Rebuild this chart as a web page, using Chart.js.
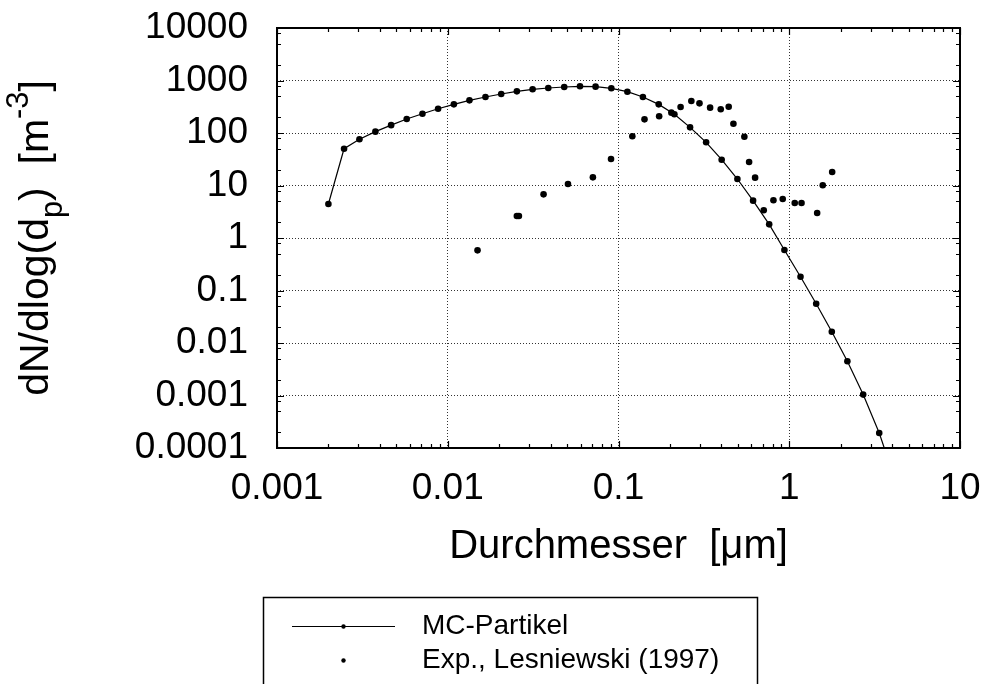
<!DOCTYPE html>
<html>
<head>
<meta charset="utf-8">
<script src="https://cdn.jsdelivr.net/npm/chart.js@4.4.1/dist/chart.umd.min.js"></script>
<style>
  html, body { margin: 0; padding: 0; background: #fff; }
  #wrap { width: 989px; height: 684px; position: relative; }
</style>
</head>
<body>
<div id="wrap"><canvas id="c" width="989" height="684"></canvas></div>
<script>
// Monte-Carlo particle size distribution (diameter in µm, dN/dlog(dp) in m^-3)
const mcDiameter = [0.002, 0.00247, 0.00304, 0.00377, 0.00466, 0.00575, 0.00711, 0.00878,
  0.01086, 0.0134, 0.01663, 0.02056, 0.0254, 0.0314, 0.0388, 0.0481, 0.0595, 0.0734, 0.0908,
  0.1127, 0.139, 0.172, 0.2125, 0.2625, 0.326, 0.402, 0.497, 0.614, 0.763, 0.937,
  1.164, 1.438, 1.775, 2.19, 2.71, 3.365, 4.16];
const mcDensity = [4.44, 50.2, 75.9, 106, 141, 185, 233, 290,
  351, 419, 485, 553, 622, 680, 720, 752, 775, 763, 710,
  612, 485, 351, 227, 128, 66.5, 31, 13.3, 5.14, 1.82, 0.59,
  0.183, 0.0561, 0.0164, 0.00448, 0.00104, 0.000193, 0.000025];

// Measured distribution, Lesniewski (1997)
const expDiameter = [0.01494, 0.0254, 0.0261, 0.0364, 0.0506, 0.0708, 0.0904, 0.1205, 0.142,
  0.173, 0.204, 0.231, 0.267, 0.298, 0.344, 0.397, 0.442, 0.471, 0.546, 0.582, 0.631,
  0.709, 0.808, 0.916, 1.077, 1.18, 1.457, 1.571, 1.784];
const expDensity = [0.582, 2.62, 2.62, 6.79, 10.7, 14.3, 32, 86.5, 182,
  208, 244, 313, 407, 367, 304, 283, 317, 150, 85, 28, 14.1,
  3.37, 5.23, 5.53, 4.64, 4.64, 2.99, 10.1, 18.1];

const seriesLabels = ['MC-Partikel', 'Exp., Lesniewski (1997)'];

const xTickValues = [0.001, 0.01, 0.1, 1, 10];
const xTickLabels = ['0.001', '0.01', '0.1', '1', '10'];
const yTickValues = [1e-4, 1e-3, 1e-2, 1e-1, 1, 10, 100, 1000, 10000];
const yTickLabels = ['0.0001', '0.001', '0.01', '0.1', '1', '10', '100', '1000', '10000'];
const xMinorSteps = [2, 3, 4, 5, 6, 7, 8, 9];
const yMinorSteps = [2, 5, 8];

const xTitle = 'Durchmesser  [\u03bcm]';
const yTitleParts = [
  { text: 'dN/dlog(d' },
  { text: 'p', shift: 'sub' },
  { text: ')  [m' },
  { text: '-3', shift: 'sup' },
  { text: ']' }
];

const FONT = "'Liberation Sans', Arial, Helvetica, sans-serif";

// inward tick marks on all four sides plus the heavy frame
const frameTicks = {
  id: 'frameTicks',
  afterDatasetsDraw(chart) {
    const { ctx, chartArea: a, scales: { x, y } } = chart;
    const majorLen = 7, minorLen = 4;
    ctx.save();
    ctx.strokeStyle = '#000';
    ctx.lineWidth = 1.2;
    ctx.beginPath();
    const xTick = (v, len) => {
      const p = Math.round(x.getPixelForValue(v)) + 0.5;
      ctx.moveTo(p, a.bottom); ctx.lineTo(p, a.bottom - len);
      ctx.moveTo(p, a.top); ctx.lineTo(p, a.top + len);
    };
    const yTick = (v, len) => {
      const p = Math.round(y.getPixelForValue(v)) + 0.5;
      ctx.moveTo(a.left, p); ctx.lineTo(a.left + len, p);
      ctx.moveTo(a.right, p); ctx.lineTo(a.right - len, p);
    };
    xTickValues.forEach((d, i) => {
      xTick(d, majorLen);
      if (i < xTickValues.length - 1) xMinorSteps.forEach(m => xTick(d * m, minorLen));
    });
    yTickValues.forEach((d, i) => {
      yTick(d, majorLen);
      if (i < yTickValues.length - 1) yMinorSteps.forEach(m => yTick(d * m, minorLen));
    });
    ctx.stroke();
    ctx.lineWidth = 2;
    ctx.strokeRect(a.left, a.top, a.right - a.left, a.bottom - a.top);
    ctx.restore();
  }
};

// rotated y-axis title with subscript / superscript
const yTitle = {
  id: 'yTitle',
  afterDraw(chart) {
    const ctx = chart.ctx;
    const size = 41;
    const a = chart.chartArea;
    ctx.save();
    const parts = yTitleParts.map(p => {
      const s = p.shift ? size * 0.75 : size;
      ctx.font = s + 'px ' + FONT;
      return { ...p, s, w: ctx.measureText(p.text).width };
    });
    const total = parts.reduce((t, p) => t + p.w, 0);
    ctx.translate(48, (a.top + a.bottom) / 2);
    ctx.rotate(-Math.PI / 2);
    ctx.fillStyle = '#000';
    ctx.textBaseline = 'alphabetic';
    ctx.textAlign = 'left';
    let u = -total / 2;
    parts.forEach(p => {
      ctx.font = p.s + 'px ' + FONT;
      const v = p.shift === 'sub' ? size * 0.35 : p.shift === 'sup' ? -size * 0.5 : 0;
      ctx.fillText(p.text, u, v);
      u += p.w;
    });
    ctx.restore();
  }
};

// boxed legend under the axis title
const legendBox = {
  id: 'legendBox',
  afterDraw(chart) {
    const ctx = chart.ctx;
    const ds = chart.data.datasets;
    const rows = [626, 660];
    ctx.save();
    ctx.strokeStyle = '#000';
    ctx.lineWidth = 1.5;
    ctx.strokeRect(263.5, 597.5, 494, 120);
    ctx.font = '28px ' + FONT;
    ctx.textBaseline = 'middle';
    ctx.textAlign = 'left';
    ctx.fillStyle = '#000';
    ds.forEach((d, i) => {
      const yy = rows[i];
      if (d.showLine) {
        ctx.lineWidth = 1.2;
        ctx.beginPath();
        ctx.moveTo(292, yy + 0.5); ctx.lineTo(395, yy + 0.5);
        ctx.stroke();
      }
      ctx.beginPath();
      ctx.arc(343.5, yy + 0.5, 2.2, 0, Math.PI * 2);
      ctx.fill();
      ctx.fillText(d.label, 422, yy);
    });
    ctx.restore();
  }
};

// keep the plot frame fixed: the axes' label overhang must not shrink the plot area
const noOverhang = s => {
  s.paddingLeft = 0; s.paddingRight = 0; s.paddingTop = 0; s.paddingBottom = 0;
};

new Chart(document.getElementById('c').getContext('2d'), {
  type: 'scatter',
  data: {
    datasets: [
      {
        label: seriesLabels[0],
        data: mcDiameter.map((d, i) => ({ x: d, y: mcDensity[i] })),
        showLine: true,
        borderColor: '#000',
        borderWidth: 1.2,
        tension: 0,
        pointRadius: 3.3,
        pointBorderWidth: 0,
        pointBackgroundColor: '#000'
      },
      {
        label: seriesLabels[1],
        data: expDiameter.map((d, i) => ({ x: d, y: expDensity[i] })),
        showLine: false,
        pointRadius: 3.3,
        pointBorderWidth: 0,
        pointBackgroundColor: '#000'
      }
    ]
  },
  options: {
    responsive: false,
    animation: false,
    devicePixelRatio: 1,
    layout: { padding: { left: 0, right: 29, top: 28, bottom: 0 } },
    plugins: { legend: { display: false }, tooltip: { enabled: false } },
    scales: {
      x: {
        type: 'logarithmic',
        position: 'bottom',
        min: 0.001,
        max: 10,
        afterBuildTicks: s => { s.ticks = xTickValues.map(v => ({ value: v, major: true })); },
        afterFit: s => { s.height = 236; noOverhang(s); },
        ticks: {
          callback: (v, i) => xTickLabels[i],
          font: { family: FONT, size: 37 },
          color: '#000',
          padding: 19,
          maxRotation: 0,
          autoSkip: false
        },
        grid: { color: '#333', lineWidth: 1, drawTicks: false },
        border: { display: false, dash: [1, 2] },
        title: {
          display: true,
          text: xTitle,
          font: { family: FONT, size: 40 },
          color: '#000',
          padding: { top: 0, bottom: 113 }
        }
      },
      y: {
        type: 'logarithmic',
        position: 'left',
        min: 1e-4,
        max: 1e4,
        afterBuildTicks: s => { s.ticks = yTickValues.map(v => ({ value: v, major: true })); },
        afterFit: s => { s.width = 277; noOverhang(s); },
        ticks: {
          callback: (v, i) => yTickLabels[i],
          font: { family: FONT, size: 37 },
          color: '#000',
          padding: 29,
          autoSkip: false
        },
        grid: { color: '#333', lineWidth: 1, drawTicks: false },
        border: { display: false, dash: [1, 2] },
        title: { display: false }
      }
    }
  },
  plugins: [frameTicks, yTitle, legendBox]
});
</script>
</body>
</html>
